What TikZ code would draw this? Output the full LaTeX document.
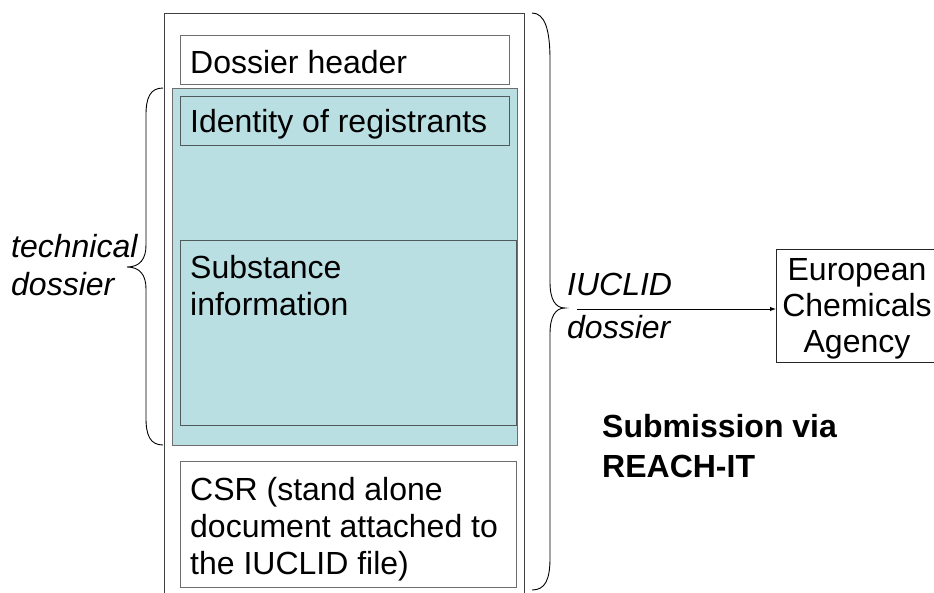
\documentclass[tikz,border=0pt]{standalone}
\usepackage{fontspec}
\setmainfont{Liberation Sans}
\usetikzlibrary{arrows.meta}
\definecolor{tealfill}{RGB}{185,223,226}
\definecolor{boxline}{RGB}{110,110,110}
\definecolor{darkline}{RGB}{80,90,90}
\tikzset{
  lbl/.style={inner sep=0pt, anchor=base west, font=\fontsize{32}{37}\selectfont},
  ilbl/.style={lbl, font=\fontsize{32}{37}\selectfont\itshape},
  blbl/.style={lbl, font=\fontsize{32}{37}\selectfont\bfseries},
  clbl/.style={lbl, anchor=base},
  plainbox/.style={draw=boxline, line width=1.4pt, fill=white, inner sep=0pt, anchor=north west},
  innerbox/.style={draw=darkline, line width=1.4pt, inner sep=0pt, anchor=north west},
  tealbox/.style={draw=boxline, line width=1.2pt, fill=tealfill, inner sep=0pt, anchor=north west},
  bracepath/.style={draw=black, line width=0.9pt},
}
\begin{document}
\begin{tikzpicture}[x=1pt,y=-1pt]
\useasboundingbox (0,0) rectangle (934,592);
\clip (0,0) rectangle (934,592);
\fill[white] (0,0) rectangle (934,592);

% outer box (bottom runs off the page)
\node[draw=black!75, line width=1pt, inner sep=0pt, anchor=north west,
      minimum width=360pt, minimum height=600pt] (outer) at (164,13) {};

% dossier header
\node[plainbox, minimum width=329pt, minimum height=49pt] (hdr) at (180,35) {};
\node[lbl] (hdrT) at (190,73) {Dossier header};

% technical dossier (teal)
\node[tealbox, minimum width=345pt, minimum height=357pt] (tech) at (172,88) {};
\node[innerbox, minimum width=329pt, minimum height=49pt] (ident) at (180,96) {};
\node[lbl] (identT) at (190,132) {Identity of registrants};
\node[innerbox, minimum width=336pt, minimum height=185pt] (subst) at (180,240) {};
\node[lbl] (substT1) at (190,278) {Substance};
\node[lbl] (substT2) at (190,315) {information};

% CSR
\node[plainbox, minimum width=336pt, minimum height=126pt] (csr) at (180,461) {};
\node[lbl] (csrT1) at (190,500) {CSR (stand alone};
\node[lbl] (csrT2) at (190,537) {document attached to};
\node[lbl] (csrT3) at (190,574) {the IUCLID file)};

% left brace
\coordinate (lbTop) at (163,88);
\coordinate (lbBot) at (163,445);
\coordinate (lbTip) at (127,267);
\draw[bracepath] (lbTop) .. controls (150,88) and (146,98) .. (146,115)
  -- (146,245) .. controls (146,259) and (140,267) .. (lbTip)
  .. controls (140,267) and (146,275) .. (146,289)
  -- (146,418) .. controls (146,435) and (150,445) .. (lbBot);
\node[ilbl] (techT1) at (11,257) {technical};
\node[ilbl] (techT2) at (11,295) {dossier};

% right brace
\coordinate (rbTop) at (532,13);
\coordinate (rbBot) at (532,590);
\coordinate (rbTip) at (565,308);
\draw[bracepath] (rbTop) .. controls (545,13) and (550,30) .. (550,60)
  -- (550,282) .. controls (550,299) and (555,308) .. (rbTip)
  .. controls (555,308) and (550,317) .. (550,334)
  -- (550,558) .. controls (550,580) and (545,590) .. (rbBot);
\node[ilbl] (iucT1) at (567,295) {IUCLID};
\node[ilbl] (iucT2) at (567,338) {dossier};

% ECHA box (right side runs off the page)
\node[draw=black!85, line width=1pt, inner sep=0pt, anchor=north west,
      minimum width=180pt, minimum height=113pt] (eca) at (776,249) {};
\node[clbl] (ecaT1) at (857,280) {European};
\node[clbl] (ecaT2) at (857,316) {Chemicals};
\node[clbl] (ecaT3) at (857,352) {Agency};

% arrow
\coordinate (aStart) at (577,309);
\draw[line width=1pt, -{Latex[length=6pt,width=4.5pt]}] (aStart) -- (aStart -| eca.west);

% submission note
\node[blbl] (subT1) at (602,437) {Submission via};
\node[blbl] (subT2) at (602,477) {REACH-IT};
\end{tikzpicture}
\end{document}
